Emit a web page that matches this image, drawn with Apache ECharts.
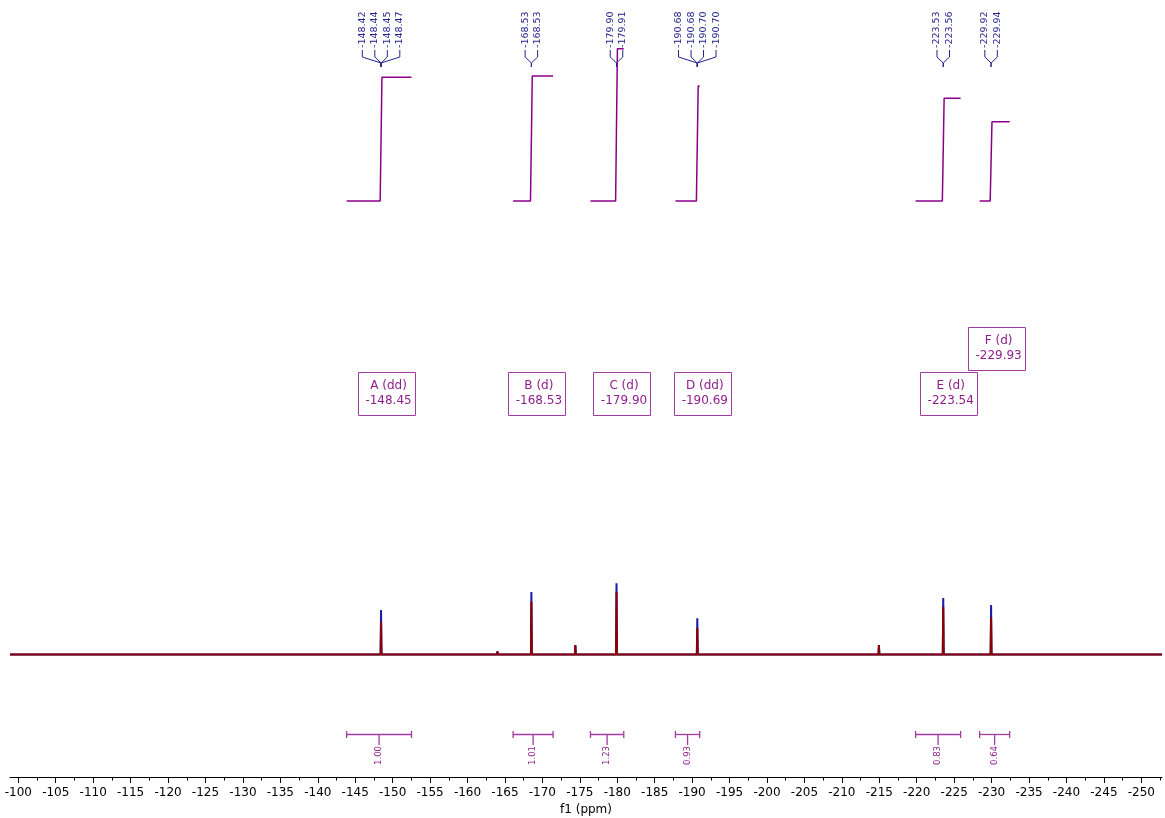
<!DOCTYPE html>
<html><head><meta charset="utf-8">
<script src="https://cdn.jsdelivr.net/npm/echarts@6/dist/echarts.min.js"></script>
<style>html,body{margin:0;padding:0;background:#fff}#c{width:1165px;height:818px}</style>
</head><body><div id="c"></div>
<script>
// ---------------- data ----------------
const majorTicks = [-100,-105,-110,-115,-120,-125,-130,-135,-140,-145,-150,-155,-160,-165,-170,-175,-180,-185,-190,-195,-200,-205,-210,-215,-220,-225,-230,-235,-240,-245,-250];
const minorTicks = [-102.5,-107.5,-112.5,-117.5,-122.5,-127.5,-132.5,-137.5,-142.5,-147.5,-152.5,-157.5,-162.5,-167.5,-172.5,-177.5,-182.5,-187.5,-192.5,-197.5,-202.5,-207.5,-212.5,-217.5,-222.5,-227.5,-232.5,-237.5,-242.5,-247.5,-252.5];
const ppmRange = [-98.89, -252.76];

const peakPpm  = [-148.45, -164.0, -168.53, -174.4, -179.90, -190.69, -214.95, -223.54, -229.93];
const peakBlue = [62.5, 4.2, 87.8, 13.3, 100.0, 50.8, 13.3, 79.4, 69.5];
const peakRed  = [46.1, 4.2, 74.2, 13.3, 88.2, 36.8, 13.3, 67.1, 52.0];

const multNames  = ['A', 'B', 'C', 'D', 'E', 'F'];
const multTypes  = ['dd', 'd', 'd', 'dd', 'd', 'd'];
const multShifts = [-148.45, -168.53, -179.90, -190.69, -223.54, -229.93];
const peakLabelGroups = [
  ['-148.42', '-148.44', '-148.45', '-148.47'],
  ['-168.53', '-168.53'],
  ['-179.90', '-179.91'],
  ['-190.68', '-190.68', '-190.70', '-190.70'],
  ['-223.53', '-223.56'],
  ['-229.92', '-229.94']
];

const intStart  = [-143.85, -166.09, -176.42, -187.77, -219.85, -228.40];
const intEnd    = [-152.52, -171.43, -180.87, -191.01, -225.86, -232.41];
const intValues = [1.00, 1.01, 1.23, 0.93, 0.83, 0.64];

// ---------------- styles ----------------
const FONT = '"DejaVu Sans", Verdana, sans-serif';
const RED = '#8b0000', BLUE = '#1c1ca6', NAVY = '#23238e';
const PURPLE_LINE = '#8b008b', PURPLE_BOX = '#a23ca2', PURPLE_TEXT = '#8e1e8e';
const BOX_W = 57, BOX_H = 43, BOX_TOP = 372;

function buildSpectrum(heights) {
  const pts = [[ppmRange[0], 0]];
  peakPpm.forEach((p, i) => {
    pts.push([p + 0.06, 0], [p, heights[i]], [p - 0.06, 0]);
  });
  pts.push([ppmRange[1], 0]);
  return pts;
}

const chart = echarts.init(document.getElementById('c'), null, {renderer: 'canvas'});

const series = [];
series.push({
  type: 'line', xAxisIndex: 0, yAxisIndex: 0, data: buildSpectrum(peakBlue),
  symbol: 'none', lineStyle: {color: BLUE, width: 2}, silent: true, z: 2
});
series.push({
  type: 'line', xAxisIndex: 0, yAxisIndex: 0, data: buildSpectrum(peakRed),
  symbol: 'none', lineStyle: {color: RED, width: 2}, silent: true, z: 3
});
intValues.forEach((v, i) => {
  series.push({
    type: 'line', xAxisIndex: 0, yAxisIndex: 1,
    data: [[intStart[i], 0], [multShifts[i] + 0.12, 0], [multShifts[i] - 0.12, v], [intEnd[i], v]],
    symbol: 'none', lineStyle: {color: PURPLE_LINE, width: 1.5}, silent: true, z: 4
  });
});

// peak label trees
series.push({
  type: 'custom', xAxisIndex: 0, yAxisIndex: 0, clip: false, silent: true, z: 5,
  data: multShifts.map((p, i) => [p, i]),
  renderItem: (params, api) => {
    const i = api.value(1);
    const xc = api.coord([api.value(0), 0])[0];
    const labels = peakLabelGroups[i];
    const n = labels.length, sp = 12.5;
    const children = [];
    labels.forEach((t, k) => {
      const x = xc + (k - (n - 1) / 2) * sp;
      children.push({type: 'text', x: x, y: 48, rotation: Math.PI / 2,
        style: {text: t, align: 'left', verticalAlign: 'middle', fill: NAVY, font: '9.5px ' + FONT}});
      children.push({type: 'polyline', shape: {points: [[x, 50], [x, 57], [xc, 63], [xc, 67]]},
        style: {stroke: NAVY, lineWidth: 1, fill: null}});
    });
    return {type: 'group', children};
  }
});

// multiplet boxes
series.push({
  type: 'custom', xAxisIndex: 0, yAxisIndex: 0, clip: false, silent: true, z: 6,
  data: multShifts.map((p, i) => [p, i]),
  renderItem: (params, api) => {
    const i = api.value(1);
    const xs = multShifts.map(p => api.coord([p, 0])[0]);
    const levels = [];
    xs.forEach((x, k) => {
      levels[k] = (k > 0 && levels[k - 1] === 0 && Math.abs(x - xs[k - 1]) < BOX_W + 2) ? 1 : 0;
    });
    const cx = xs[i] + 5;
    const top = BOX_TOP - levels[i] * (BOX_H + 2);
    const left = Math.round(cx - BOX_W / 2) + 0.5;
    return {type: 'group', children: [
      {type: 'rect', shape: {x: left, y: top + 0.5, width: BOX_W, height: BOX_H},
        style: {fill: '#fff', stroke: PURPLE_BOX, lineWidth: 1}},
      {type: 'text', x: cx + 2.5, y: top + 14,
        style: {text: multNames[i] + ' (' + multTypes[i] + ')', align: 'center', verticalAlign: 'middle', fill: PURPLE_TEXT, font: '12px ' + FONT}},
      {type: 'text', x: cx + 2.5, y: top + 29,
        style: {text: multShifts[i].toFixed(2), align: 'center', verticalAlign: 'middle', fill: PURPLE_TEXT, font: '12px ' + FONT}}
    ]};
  }
});

// integral brackets
series.push({
  type: 'custom', xAxisIndex: 0, yAxisIndex: 0, clip: false, silent: true, z: 6,
  data: intValues.map((v, i) => [intStart[i], intEnd[i], v]),
  renderItem: (params, api) => {
    const x1 = api.coord([api.value(0), 0])[0];
    const x2 = api.coord([api.value(1), 0])[0];
    const mid = (x1 + x2) / 2, y = 734.5;
    const ls = {stroke: PURPLE_BOX, lineWidth: 1.3};
    return {type: 'group', children: [
      {type: 'line', shape: {x1: x1, y1: y, x2: x2, y2: y}, style: ls},
      {type: 'line', shape: {x1: x1, y1: y - 3.5, x2: x1, y2: y + 3.5}, style: ls},
      {type: 'line', shape: {x1: x2, y1: y - 3.5, x2: x2, y2: y + 3.5}, style: ls},
      {type: 'line', shape: {x1: mid, y1: y, x2: mid, y2: y + 10.5}, style: ls},
      {type: 'text', x: mid, y: y + 11.5, rotation: Math.PI / 2,
        style: {text: api.value(2).toFixed(2), align: 'right', verticalAlign: 'middle', fill: PURPLE_TEXT, font: '8.5px ' + FONT}}
    ]};
  }
});

chart.setOption({
  animation: false,
  backgroundColor: '#fff',
  grid: {left: 10, right: 3, top: 0, bottom: 41, containLabel: false, outerBoundsMode: 'none'},
  xAxis: [{
    type: 'value', inverse: true, min: ppmRange[1], max: ppmRange[0], position: 'bottom',
    axisLine: {show: true, onZero: false, lineStyle: {color: '#000', width: 1}},
    axisTick: {show: true, customValues: majorTicks, length: 6, lineStyle: {color: '#000'}},
    axisLabel: {show: true, customValues: majorTicks, color: '#000', fontSize: 12, fontFamily: FONT, margin: 10},
    splitLine: {show: false},
    name: 'f1 (ppm)', nameLocation: 'middle', nameGap: 26,
    nameTextStyle: {color: '#000', fontSize: 12, fontFamily: FONT}
  }, {
    type: 'value', inverse: true, min: ppmRange[1], max: ppmRange[0], position: 'bottom',
    axisLine: {show: false, onZero: false},
    axisTick: {show: true, customValues: minorTicks, length: 3.5, lineStyle: {color: '#000'}},
    axisLabel: {show: false}, splitLine: {show: false}
  }],
  yAxis: [{
    type: 'value', min: -172.1, max: 919.2, show: false, splitLine: {show: false}
  }, {
    type: 'value', min: -4.656, max: 1.625, show: false, splitLine: {show: false}
  }],
  series: series
});
</script></body></html>
